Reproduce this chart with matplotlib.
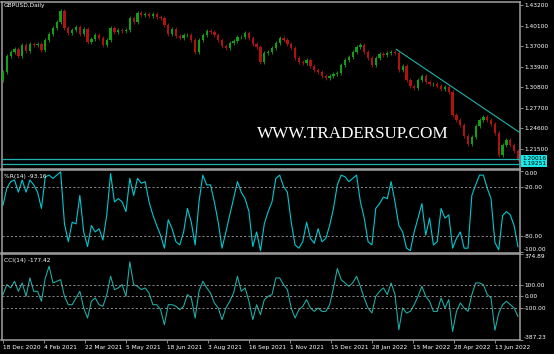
import matplotlib
matplotlib.use("Agg")
import matplotlib.pyplot as plt
import matplotlib.transforms as mtrans
import numpy as np

# ---------------- data ----------------
first_open = 1.3188
closes = [1.3308, 1.3550, 1.3610, 1.3656, 1.3550, 1.3716, 1.3625, 1.3731, 1.3716, 1.3731,
          1.3641, 1.3791, 1.3882, 1.3973, 1.4063, 1.4229, 1.3973, 1.3897, 1.3943, 1.3988,
          1.3882, 1.3958, 1.3761, 1.3807, 1.3867, 1.3822, 1.3716, 1.3791, 1.3973, 1.3912,
          1.3943, 1.3927, 1.3943, 1.4124, 1.4063, 1.4199, 1.4169, 1.4184, 1.4154, 1.4184,
          1.4139, 1.4124, 1.4018, 1.3882, 1.3958, 1.3852, 1.3822, 1.3867, 1.3867, 1.3791,
          1.3610, 1.3791, 1.3867, 1.3927, 1.3912, 1.3867, 1.3791, 1.3701, 1.3671, 1.3746,
          1.3776, 1.3837, 1.3837, 1.3897, 1.3822, 1.3731, 1.3686, 1.3459, 1.3595, 1.3610,
          1.3671, 1.3746, 1.3822, 1.3791, 1.3731, 1.3671, 1.3520, 1.3459, 1.3444, 1.3490,
          1.3399, 1.3338, 1.3308, 1.3248, 1.3218, 1.3248, 1.3278, 1.3293, 1.3414, 1.3490,
          1.3535, 1.3610, 1.3686, 1.3716, 1.3610, 1.3520, 1.3414, 1.3520, 1.3580, 1.3565,
          1.3595, 1.3610, 1.3595, 1.3338, 1.3399, 1.3187, 1.3097, 1.3067, 1.3187, 1.3248,
          1.3157, 1.3127, 1.3127, 1.3097, 1.3052, 1.3082, 1.3006, 1.2659, 1.2584, 1.2508,
          1.2342, 1.2221, 1.2327, 1.2493, 1.2584, 1.2629, 1.2584, 1.2523, 1.2387, 1.2055,
          1.2206, 1.2281, 1.2206, 1.2115, 1.1995]

wpr = [-42, -21, -13, -11, -26, -11, -26, -11, -17, -26,
       -46, -7, -5, -9, -5, -1, -65, -87, -63, -65,
       -30, -75, -93, -67, -75, -71, -85, -54, -3, -38,
       -34, -38, -50, -9, -30, -9, -15, -13, -38, -54,
       -67, -79, -95, -60, -71, -87, -91, -75, -46, -63,
       -91, -38, -5, -17, -17, -38, -63, -95, -75, -54,
       -34, -13, -26, -34, -50, -93, -75, -98, -65, -50,
       -38, -9, -5, -19, -26, -63, -91, -95, -87, -63,
       -83, -89, -71, -87, -83, -67, -46, -17, -5, -7,
       -13, -9, -5, -38, -58, -87, -91, -46, -40, -32,
       -34, -13, -38, -67, -75, -95, -98, -75, -58, -40,
       -79, -58, -91, -87, -46, -58, -54, -95, -83, -75,
       -95, -95, -30, -17, -5, -5, -21, -34, -88, -97,
       -55, -50, -54, -67, -93.16]

cci = [15, 103, 74, 133, 44, 118, 0, 162, 44, 44,
       -44, 162, 265, 118, 133, 147, 0, -74, -74, -15,
       44, -103, -192, -44, -15, -74, -88, 15, 177, 59,
       74, 103, 0, 304, 103, 88, 59, 74, 29, -74,
       -74, -118, -251, -74, -74, -88, -118, -88, 15, -15,
       -192, 44, 133, 74, 29, -59, -103, -206, -103, -44,
       29, 177, 44, 74, -44, -206, -74, -162, -29, 0,
       15, 162, 162, 103, 59, -103, -192, -118, -88, -29,
       -103, -133, -103, -133, -133, -74, 74, 245, 147, 118,
       88, 118, 177, 88, -15, -103, -147, 0, 44, 74,
       15, 118, 15, -295, -103, -147, -133, -74, 0, 88,
       0, -44, -133, -133, -15, -103, -29, -310, -133, -59,
       -103, -133, 15, 118, 118, 103, 15, -15, -300, -150,
       -74, -44, -74, -103, -177.42]

date_labels = ["18 Dec 2020", "4 Feb 2021", "22 Mar 2021", "5 May 2021", "18 Jun 2021",
               "3 Aug 2021", "16 Sep 2021", "1 Nov 2021", "15 Dec 2021", "28 Jan 2022",
               "15 Mar 2022", "28 Apr 2022", "13 Jun 2022"]
price_ticks = [1.43200, 1.40100, 1.37000, 1.33900, 1.30800, 1.27700, 1.24600, 1.21500]
hlines = [1.20016, 1.19251]
trend_bars = [307, 403.6]
trend_prices = [1.3651, 1.2392]
wpr_levels = [-20, -80]
cci_levels = [100, 0, -100]
wpr_ticks = [0, -20, -80, -100]
cci_ticks = [374.89, 100, 0, -100, -387.23]

# ---------------- styling ----------------
BARS_PER_CANDLE = 3
BARS_PER_LABEL = 32
WICK = 0.0028
UP = "#12a012"
DOWN = "#b01212"
TEAL = "#20b2aa"
CYAN = "#00c8cf"
FRAME = "#a0a0a0"
FS = 4.2
W, H = 554, 354

fig = plt.figure(figsize=(W / 100, H / 100), dpi=100, facecolor="black")


def rect(x0, y0, x1, y1):
    return [x0 / W, 1 - y1 / H, (x1 - x0) / W, (y1 - y0) / H]


ax_p = fig.add_axes(rect(1.5, 2.5, 520, 169.0))
ax_w = fig.add_axes(rect(1.5, 170.3, 520, 252.6), sharex=ax_p)
ax_c = fig.add_axes(rect(1.5, 253.8, 520, 340.2), sharex=ax_p)

for ax in (ax_p, ax_w, ax_c):
    ax.set_facecolor("black")
    for s in ax.spines.values():
        s.set_color(FRAME)
        s.set_linewidth(1.1)
    ax.yaxis.tick_right()
    ax.tick_params(axis="y", colors=FRAME, labelcolor="white", labelsize=FS,
                   length=2.2, width=0.6, pad=0.8)
    ax.tick_params(axis="x", bottom=False, labelbottom=False)

n = len(closes)
x = np.arange(n) * BARS_PER_CANDLE
opens = np.array([first_open] + closes[:-1])
cl = np.array(closes)
lo_body = np.minimum(opens, cl)
hi_body = np.maximum(opens, cl)
colors = [UP if c >= o else DOWN for o, c in zip(opens, cl)]

# ---------------- price panel ----------------
ax_p.vlines(x, lo_body - WICK, hi_body + WICK, colors=colors, linewidth=0.6, zorder=2)
ax_p.bar(x, hi_body - lo_body, bottom=lo_body, width=1.8, color=colors, linewidth=0, zorder=3)
for h in hlines:
    ax_p.axhline(h, color=TEAL, linewidth=0.9, zorder=4)
ax_p.plot(trend_bars, trend_prices, color=TEAL, linewidth=0.8, zorder=4)

ax_p.set_ylim(1.432 - 164 * 0.00151, 1.432 + 2.5 * 0.00151)
ax_p.set_yticks(price_ticks)
ax_p.set_yticklabels([f"{v:.5f}" for v in price_ticks])
ax_p.set_xlim(-1.17, 403.6)

btrans = mtrans.blended_transform_factory(ax_p.transAxes, ax_p.transData)
for h in hlines:
    ax_p.text(1.004, h, f"{h:.5f}", transform=btrans, ha="left", va="center",
              fontsize=FS, color="black", family="DejaVu Sans", clip_on=False,
              bbox=dict(boxstyle="square,pad=0.12", fc="#19e8e8", ec="none"))

fig.text(4 / W, 1 - 6 / H, "GBPUSD,Daily", fontsize=FS, color="white", va="center",
         family="DejaVu Sans")
fig.text(353 / W, 1 - 137.5 / H, "WWW.TRADERSUP.COM", fontsize=12.3, color="white",
         ha="center", va="baseline", family="Liberation Serif")

# ---------------- Williams %R panel ----------------
ax_w.plot(x, wpr, color=CYAN, linewidth=0.8)
for lv in wpr_levels:
    ax_w.axhline(lv, color=FRAME, linewidth=0.6, linestyle=(0, (2.5, 2.5)))
ax_w.set_ylim(-100.44, 0.95)
ax_w.set_yticks(wpr_ticks)
ax_w.set_yticklabels([f"{v:.2f}" for v in wpr_ticks])
wl = ax_w.get_yticklabels()
wl[0].set_va("top")
wl[-1].set_va("bottom")
fig.text(4 / W, 1 - 176.5 / H, f"%R(14) {wpr[-1]:.2f}", fontsize=FS, color="white",
         va="center", family="DejaVu Sans")

# ---------------- CCI panel ----------------
ax_c.plot(x, cci, color=TEAL, linewidth=0.75)
for lv in cci_levels:
    ax_c.axhline(lv, color=FRAME, linewidth=0.6, linestyle=(0, (2.5, 2.5)))
ax_c.set_ylim(cci_ticks[-1], cci_ticks[0])
ax_c.set_yticks(cci_ticks)
ax_c.set_yticklabels([f"{v:.2f}" for v in cci_ticks])
cl_labels = ax_c.get_yticklabels()
cl_labels[0].set_va("top")
cl_labels[-1].set_va("bottom")
fig.text(4 / W, 1 - 260.5 / H, f"CCI(14) {cci[-1]:.2f}", fontsize=FS, color="white",
         va="center", family="DejaVu Sans")

ax_c.tick_params(axis="x", bottom=True, labelbottom=True, colors=FRAME, labelcolor="white",
                 labelsize=FS, length=2.2, width=0.6, pad=1.0)
ax_c.set_xticks(np.arange(len(date_labels)) * BARS_PER_LABEL)
ax_c.set_xticklabels(date_labels)
for lab in ax_c.get_xticklabels():
    lab.set_ha("left")
ax_c.set_xlim(-1.17, 403.6)

fig.savefig("out.png", dpi=100, facecolor="black")
